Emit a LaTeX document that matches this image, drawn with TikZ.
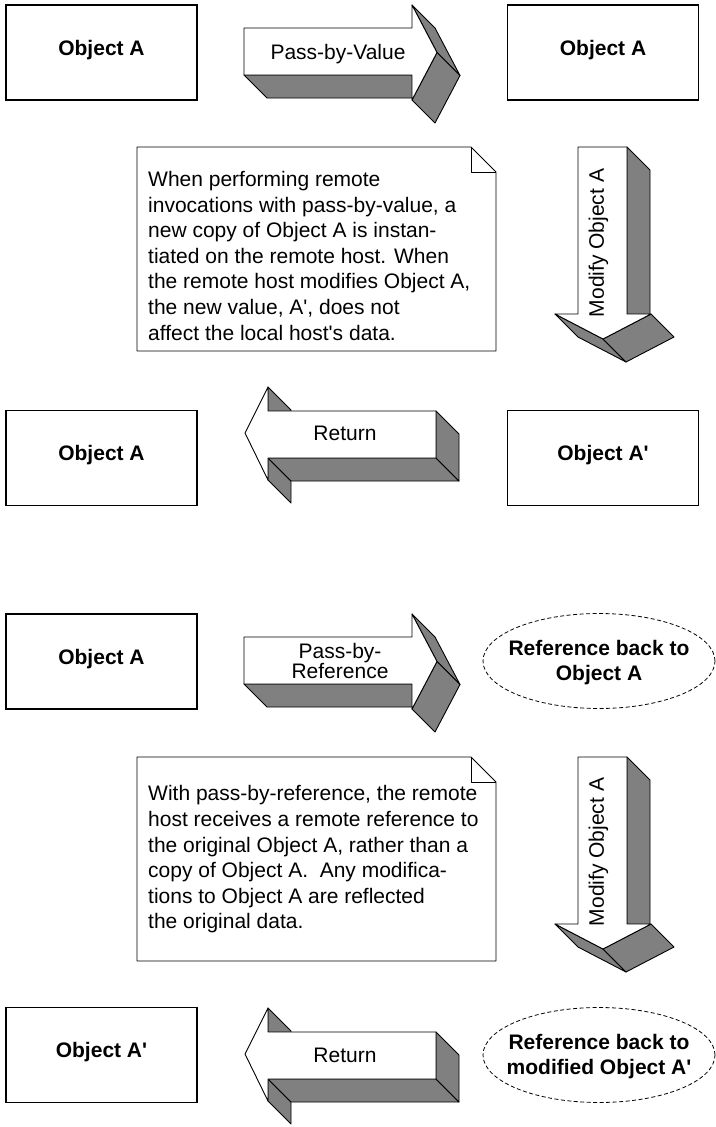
\documentclass[tikz,border=0pt]{standalone}
\usepackage{fontspec}
\setmainfont{Liberation Sans}
\usetikzlibrary{shapes.geometric}
\definecolor{shade}{RGB}{128,128,128}
\newcommand\ArrRight[1]{%
\begin{scope}[shift={(0,#1)}]
\path[face] (244,75)--(412,75)--(435,98)--(267,98)--cycle;
\path[face] (412,5)--(437,52.5)--(460,75.5)--(435,28)--cycle;
\path[face] (437,52.5)--(412,100)--(435,123)--(460,75.5)--cycle;
\path[front] (244,28)--(412,28)--(412,5)--(437,52.5)--(412,100)--(412,75)--(244,75)--cycle;
\end{scope}}
\newcommand\ArrLeft[1]{%
\begin{scope}[shift={(0,#1)}]
\path[face] (268,387)--(268,411)--(291,434)--(291,410)--cycle;
\path[face] (268,458)--(268,480)--(291,503)--(291,481)--cycle;
\path[face] (268,458)--(436,458)--(459,481)--(291,481)--cycle;
\path[face] (436,411)--(459,434)--(459,481)--(436,458)--cycle;
\path[front] (245,433)--(268,387)--(268,411)--(436,411)--(436,458)--(268,458)--(268,480)--cycle;
\end{scope}}
\newcommand\ArrDown[1]{%
\begin{scope}[shift={(0,#1)}]
\path[face] (627,147)--(650,170)--(650,337)--(627,314)--cycle;
\path[face] (555,314)--(603,339)--(626,362)--(578,337)--cycle;
\path[face] (603,339)--(651,314)--(674,337)--(626,362)--cycle;
\path[front] (578,147)--(627,147)--(627,314)--(651,314)--(603,339)--(555,314)--(578,314)--cycle;
\end{scope}}
\newcommand\NoteShape[1]{%
\begin{scope}[shift={(0,#1)}]
\path[front] (137,147)--(471,147)--(496,172)--(496,351)--(137,351)--cycle;
\draw[line width=0.9pt, line join=round] (471,147)--(471,172)--(496,172);
\end{scope}}
\begin{document}
\begin{tikzpicture}[x=1pt,y=-1pt,
  face/.style={fill=shade, draw=black, line width=0.9pt, line join=round},
  front/.style={fill=white, draw=black, line width=0.9pt, line join=round},
  objbox/.style={draw, line width=1.5pt, minimum width=191pt, minimum height=95pt,
    inner sep=0pt, font=\fontsize{21}{25}\selectfont\bfseries, text height=15pt, text depth=10pt},
  lbl/.style={inner sep=0pt, font=\fontsize{21}{25}\selectfont},
  notetext/.style={inner sep=0pt, anchor=north west, align=left, font=\fontsize{21}{25.6}\selectfont},
  refell/.style={ellipse, draw, line width=0.8pt, dash pattern=on 4pt off 2.5pt,
    minimum width=232pt, minimum height=95pt, inner sep=0pt},
  reftext/.style={inner sep=0pt, align=center, font=\fontsize{21}{25}\selectfont\bfseries}
]
\useasboundingbox (0,0) rectangle (715,1127);
\fill[white] (0,0) rectangle (715,1127);

% ---------- pass-by-value ----------
\node[objbox] (a1) at (101.5,52.5) {Object A};
\node[objbox] (a2) at (603,52.5) {Object A};
\ArrRight{0}
\node[lbl] (pv) at (338,54.5) {Pass-by-Value};
\ArrDown{0}
\node[lbl, rotate=90] (m1) at (598.5,243) {Modify Object A};
\NoteShape{0}
\node[notetext] (n1) at (148,171) {When performing remote\\
invocations with pass-by-value, a\\
new copy of Object A is instan-\\
tiated on the remote host. When\\
the remote host modifies Object A,\\
the new value, A\textquotesingle, does not\\
affect the local host\textquotesingle s data.};
\node[objbox] (a3) at (101.5,458) {Object A};
\node[objbox] (a4) at (603,458) {Object A\textquotesingle};
\ArrLeft{0}
\node[lbl] (r1) at (345,433) {Return};

% ---------- pass-by-reference ----------
\node[objbox] (b1) at (101.5,661.5) {Object A};
\ArrRight{609}
\node[lbl, align=center, font=\fontsize{21}{20}\selectfont] (pr) at (340,660.5) {Pass-by-\\Reference};
\node[refell] (e1) at (599,661) {};
\node[reftext] (e1t) at ([yshift=-1.5pt]e1.center) {Reference back to\\Object A};
\ArrDown{610}
\node[lbl, rotate=90] (m2) at (598.5,852) {Modify Object A};
\NoteShape{610}
\node[notetext] (n2) at (148,785.5) {With pass-by-reference, the remote\\
host receives a remote reference to\\
the original Object A, rather than a\\
copy of Object A.\ \ Any modifica-\\
tions to Object A are reflected\\
the original data.};
\node[objbox] (b4) at (101.5,1055) {Object A\textquotesingle};
\ArrLeft{621}
\node[lbl] (r2) at (345,1055) {Return};
\node[refell] (e2) at (599,1055) {};
\node[reftext] (e2t) at ([yshift=-1.5pt]e2.center) {Reference back to\\modified Object A\textquotesingle};
\end{tikzpicture}
\end{document}
